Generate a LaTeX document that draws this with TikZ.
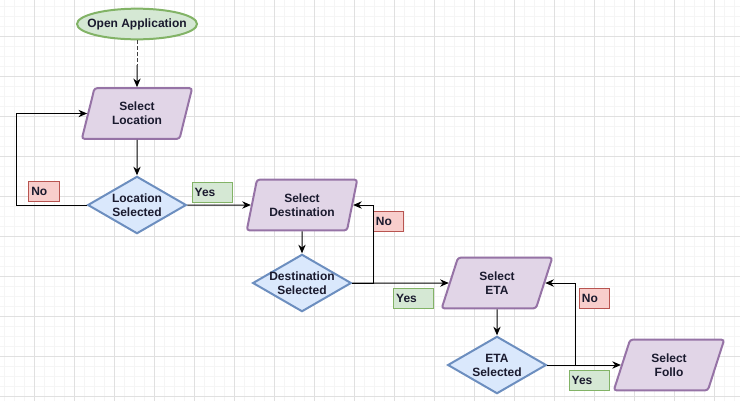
\documentclass[tikz,border=0pt]{standalone}
\usepackage{fontspec}
\setmainfont{Liberation Sans}
\usetikzlibrary{shapes.geometric,arrows.meta}

\definecolor{startfill}{HTML}{D5E8D4}
\definecolor{startdraw}{HTML}{82B366}
\definecolor{stepfill}{HTML}{E1D5E7}
\definecolor{stepdraw}{HTML}{9673A6}
\definecolor{askfill}{HTML}{DAE8FC}
\definecolor{askdraw}{HTML}{6C8EBF}
\definecolor{nofill}{HTML}{F8CECC}
\definecolor{nodraw}{HTML}{B85450}
\definecolor{textcol}{HTML}{1A1A2E}

\begin{document}
\begin{tikzpicture}[
        x=0.75pt, y=-0.75pt,
        >={Stealth[length=6.5pt,width=5.5pt]},
        font=\fontsize{9}{10.5}\selectfont\bfseries,
        text=textcol,
        % start / end node
        startbox/.style={
            ellipse,
            draw=startdraw,
            fill=startfill,
            line width=1.5pt,
            minimum width=90pt,
            minimum height=23pt,
            inner sep=0pt
        },
        % input step (parallelogram)
        stepbox/.style={
            trapezium,
            trapezium left angle=72,
            trapezium right angle=108,
            trapezium stretches=true,
            draw=stepdraw,
            fill=stepfill,
            line width=1.5pt,
            rounded corners=2pt,
            minimum width=83pt,
            minimum height=38pt,
            inner sep=0pt,
            align=center
        },
        % decision
        askbox/.style={
            diamond,
            draw=askdraw,
            fill=askfill,
            line width=1.5pt,
            minimum width=74pt,
            minimum height=43pt,
            inner sep=0pt
        },
        % yes / no tags
        yestag/.style={
            draw=startdraw,
            fill=startfill,
            line width=0.6pt,
            minimum height=15pt,
            inner xsep=2pt, inner ysep=0pt,
            text width=26pt,
            align=left
        },
        notag/.style={
            yestag,
            draw=nodraw,
            fill=nofill,
            text width=19pt
        },
        flow/.style={
            ->,
            line width=0.75pt
        }
    ]

    \useasboundingbox (0,0) rectangle (740,401);

    % --- 0. grid ---
    \foreach \gx in {4,14,...,740} {
        \draw[black!4, line width=0.4pt] (\gx,0) -- (\gx,401);
    }
    \foreach \gy in {6,16,...,401} {
        \draw[black!4, line width=0.4pt] (0,\gy) -- (740,\gy);
    }
    \foreach \gx in {34,74,...,740} {
        \draw[black!12, line width=0.6pt] (\gx,0) -- (\gx,401);
    }
    \foreach \gy in {36,76,...,401} {
        \draw[black!12, line width=0.6pt] (0,\gy) -- (740,\gy);
    }

    % --- 1. nodes ---
    \node (open) [startbox, label=center:Open Application] at (137,24) {};

    \node (loc) [stepbox] at (137,113.5) {Select\\Location};
    \node (locsel) [askbox, label={[align=center]center:Location\\Selected}] at (137,205) {};

    \node (dest) [stepbox] at (302,205) {Select\\Destination};
    \node (destsel) [askbox, label={[align=center]center:Destination\\Selected}] at (302,283) {};

    \node (eta) [stepbox] at (497,283) {Select\\ETA};
    \node (etasel) [askbox, label={[align=center]center:ETA\\Selected}] at (497,365) {};

    \node (follo) [stepbox] at (669,365) {Select\\Follo};

    % tags
    \node (no1) [notag] at (44,191.5) {No};
    \node (yes1) [yestag] at (212,192) {Yes};
    \node (no2) [notag] at (388.5,221) {No};
    \node (yes2) [yestag] at (413.5,298) {Yes};
    \node (no3) [notag] at (594.5,298) {No};
    \node (yes3) [yestag] at (589,380.5) {Yes};

    % --- 2. connectors ---
    \coordinate (dashend) at (137,65);
    \draw[black!75, line width=0.75pt, dash pattern=on 2.5pt off 2pt] (open.south) -- (dashend);
    \draw[flow] (dashend) -- (loc.north);

    \draw[flow] (loc.south) -- (locsel.north);
    \draw[flow] (locsel.west) -- ++(-70,0) |- (loc.west);
    \draw[flow] (locsel.east) -- (dest.west);

    \draw[flow] (dest.south) -- (destsel.north);
    \draw[flow] (destsel.east) -- ++(21,0) |- (dest.east);
    \draw[flow] (destsel.east) -- (eta.west);

    \draw[flow] (eta.south) -- (etasel.north);
    \draw[flow] (etasel.east) -- ++(28,0) |- (eta.east);
    \draw[flow] (etasel.east) -- (follo.west);

\end{tikzpicture}
\end{document}
